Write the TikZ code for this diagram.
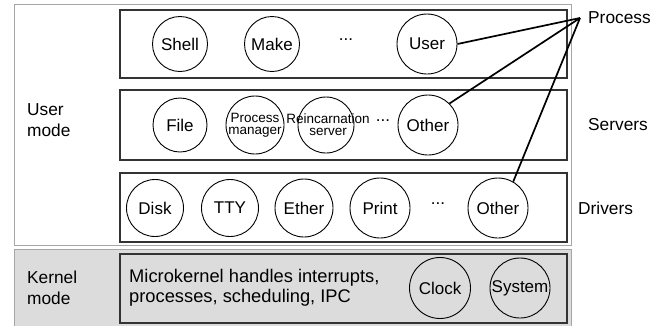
\documentclass[tikz,border=0pt]{standalone}
\usepackage{fontspec}
\setmainfont{Liberation Sans}
\begin{document}
\begin{tikzpicture}[x=1pt,y=-1pt,
  outerbox/.style={draw=black!35,line width=1pt},
  innerbox/.style={draw=black!80,line width=1.3pt},
  proc/.style={circle,draw=black,line width=0.9pt,inner sep=0pt,minimum size=#1,font=\fontsize{17}{19}\selectfont},
  proc/.default=58pt,
  small/.style={font=\fontsize{13.5}{14}\selectfont,align=center},
  lbl/.style={font=\fontsize{17.3}{20.5}\selectfont,align=left,anchor=west,inner sep=0pt},
  ktext/.style={font=\fontsize{18.3}{19.5}\selectfont,align=left,anchor=west,inner sep=0pt},
  dots/.style={font=\fontsize{17}{19}\selectfont},
  conn/.style={line width=1.7pt}]
\useasboundingbox (0,0) rectangle (666,325);
\definecolor{kgray}{RGB}{220,220,220}
% outer boxes
\draw[outerbox,fill=white] (14,4) rectangle (571,245);
\draw[outerbox,fill=kgray] (14,249) rectangle (571,327);
% inner boxes
\draw[innerbox,fill=white] (120,10) rectangle (567,78);
\draw[innerbox,fill=white] (120,90) rectangle (567,160);
\draw[innerbox,fill=white] (120,173) rectangle (567,242);
\draw[innerbox,fill=kgray] (120,254) rectangle (567,323);
% row 1
\node[proc=55pt] (shell) at (180,44) {Shell};
\node[proc=55pt] (make) at (272,44) {Make};
\node[dots] (d1) at (346,40) {...};
\node[proc=60pt] (user) at (427,44) {User};
% row 2
\node[proc=54pt] (file) at (180,125) {File};
\node[proc=58pt] (pm) at (255,125) {};
\node[small] (pmt) at (pm) {Process\\[-2pt]manager};
\node[proc=56pt] (rs) at (326,125) {};
\node[small] (rst) at (328,125) {Reincarnation\\[-2pt]server};
\node[dots] (d2) at (383,121) {...};
\node[proc=60pt] (other1) at (428,125) {Other};
% row 3
\node[proc=57pt] (disk) at (155,208) {Disk};
\node[proc=57pt] (tty) at (230,208) {TTY};
\node[proc=58pt] (ether) at (304,208) {Ether};
\node[proc=60pt] (print) at (380,208) {Print};
\node[dots] (d3) at (438,204) {...};
\node[proc=60pt] (other2) at (498,208) {Other};
% kernel
\node[ktext] (mk) at (129,288) {Microkernel handles interrupts,\\processes, scheduling, IPC};
\node[proc=61pt] (clock) at (440,288) {Clock};
\node[proc=60pt] (system) at (520,288) {System};
% labels
\node[lbl] (um) at (27,120) {User\\mode};
\node[lbl] (km) at (27,288) {Kernel\\mode};
\node[lbl] (process) at (588,18) {Process};
\node[lbl] (servers) at (588,125) {Servers};
\node[lbl] (drivers) at (578,208) {Drivers};
% connectors
\coordinate (hub) at (580,18);
\draw[conn] (hub) -- (user.east);
\draw[conn] (hub) -- (other1.north east);
\draw[conn] (hub) -- (other2.60);
\end{tikzpicture}
\end{document}
